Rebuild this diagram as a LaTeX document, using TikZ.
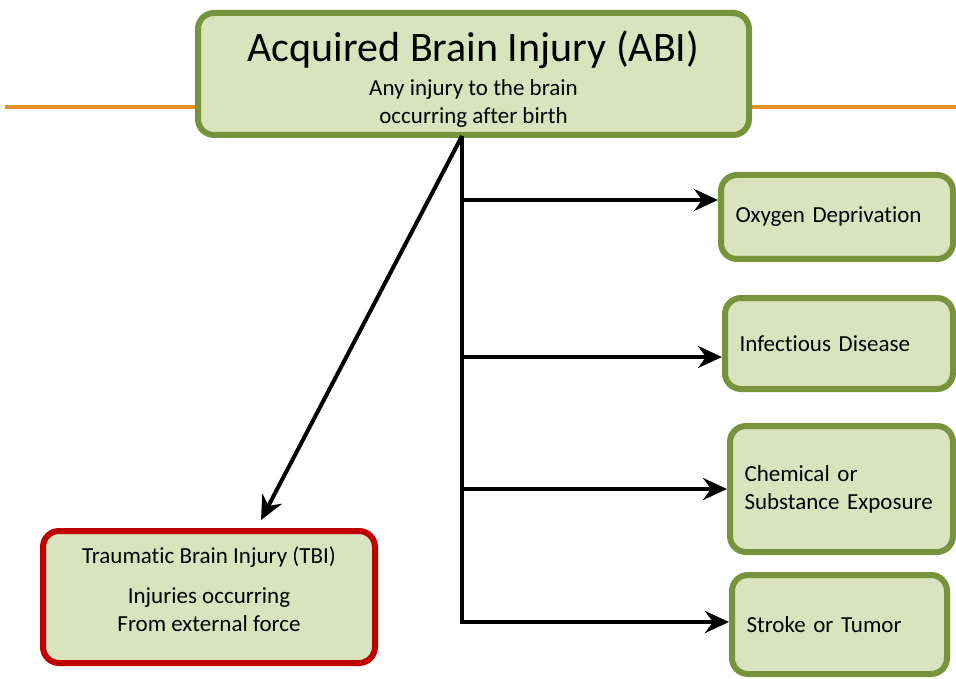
\documentclass[tikz,border=0pt]{standalone}
\usepackage{fontspec}
\setmainfont{Carlito}[Ligatures=NoCommon]
\usetikzlibrary{arrows.meta}
\definecolor{boxfill}{HTML}{D7E4BD}
\definecolor{boxline}{HTML}{77933C}
\definecolor{tbired}{HTML}{C00000}
\definecolor{rulecol}{HTML}{E8912A}
\tikzset{
  box/.style={draw=boxline, fill=boxfill, line width=6pt, rounded corners=16pt,
    inner sep=0pt, font=\fontsize{23}{28}\selectfont},
  cause/.style={box, align=left, inner xsep=14.5pt},
  arr/.style={line width=4pt, -{Stealth[length=24pt,width=22pt,inset=8pt]}},
}
\begin{document}
\begin{tikzpicture}[x=1pt,y=-1pt]
  \useasboundingbox (0,0) rectangle (956,679);
  \draw[rulecol, line width=3.5pt] (5,107) -- (956,107);
  % main box
  \node[box, align=center, minimum width=551, minimum height=122] (abi) at (473.5,74)
    {{\fontsize{42}{50}\selectfont\rule{0pt}{41pt}Acquired Brain Injury (ABI)}\\[6pt]
     Any injury to the brain\\ occurring after birth};
  \node[box, draw=tbired, align=center, minimum width=332, minimum height=132] (tbi) at (209,597)
    {Traumatic Brain Injury (TBI)\\[12pt] Injuries occurring\\
     From external force\rule[-16pt]{0pt}{16pt}};
  % causes
  \node[cause, text width=203, minimum height=84] (oxy) at (837,217) {Oxygen Deprivation};
  \node[cause, text width=199, minimum height=91] (inf) at (839,343.5) {Infectious Disease};
  \node[cause, text width=194, minimum height=126] (chem) at (841.5,489) {Chemical or\\ Substance Exposure};
  \node[cause, text width=186, minimum height=99] (strk) at (839.5,624.5) {Stroke or Tumor};
  \coordinate (trunk) at (462,136);
  \coordinate (tbitip) at (261,520);
  \draw[arr] (trunk) -- (tbitip);
  \draw[arr] (trunk) |- (strk.west |- 0,622);
  \foreach \b/\y in {oxy/200,inf/357,chem/489}
    \draw[arr] (trunk |- 0,\y) -- (\b.west |- 0,\y);
\end{tikzpicture}
\end{document}
